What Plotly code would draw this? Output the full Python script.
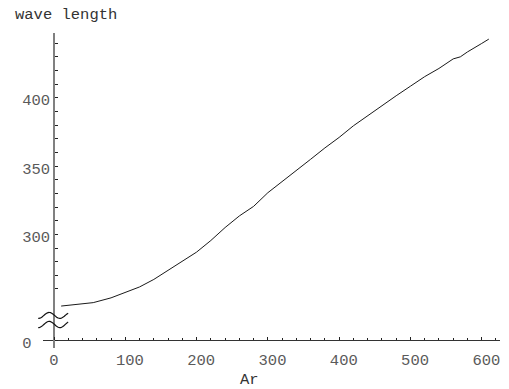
import numpy as np
import plotly.graph_objects as go

# ---- data ----
ar = [10, 30, 55, 80, 100, 120, 140, 160, 180, 200, 220, 240, 260, 280, 300,
      320, 340, 360, 380, 400, 420, 440, 460, 480, 500, 520, 540, 560, 570,
      580, 600, 610]
wavelength = [247.5, 248.5, 250, 253.5, 257.5, 261.5, 267, 273.5, 280.5, 287,
              295.5, 305, 313.5, 320.5, 330.5, 338.5, 347, 355, 363.3, 371,
              379.5, 387, 394.5, 401.5, 408.5, 415.5, 421.5, 428.5, 430,
              433.6, 439.8, 443]

x_tick_values = [0, 100, 200, 300, 400, 500, 600]
x_tick_labels = ["0", "\u00a0100", "\u00a0200", "\u00a0300", "\u00a0400", "\u00a0500", "\u00a0600"]

# broken y axis: the "0" label sits just below the break
ZERO_POS = 222.3
y_tick_values = [ZERO_POS, 300, 350, 400]
y_tick_labels = ["0\u00a0\u00a0", "300", "350", "400"]
y_minor_values = [260, 270, 280, 290, 310, 320, 330, 340, 360, 370, 380, 390,
                  410, 420, 430, 440]

W, H = 509, 389
FONT = "Liberation Mono"


def fx(px):
    return px / W


def fy(py):
    return 1 - py / H


fig = go.Figure()
fig.add_trace(go.Scatter(x=ar, y=wavelength, mode="lines",
                         line=dict(color="#1a1a1a", width=1),
                         hoverinfo="skip"))

# axis-break marks (two small waves across the y axis)
shapes = []
for yc, amp in [(318.7, 3.0), (327.85, 3.15)]:
    xs = np.linspace(38.3, 68.3, 40)
    ys = yc - amp * np.cos(2 * np.pi * (xs - 49.3) / 21.4)
    path = "M " + " L ".join(f"{fx(a):.5f},{fy(b):.5f}" for a, b in zip(xs, ys))
    shapes.append(dict(type="path", xref="paper", yref="paper", path=path,
                       line=dict(color="#111111", width=1.2)))

fig.update_layout(
    width=W, height=H,
    margin=dict(l=0, r=0, t=0, b=0),
    paper_bgcolor="white", plot_bgcolor="white",
    showlegend=False,
    font=dict(family=FONT, size=15.5, color="#5a5a5a"),
    shapes=shapes,
    xaxis=dict(
        domain=[fx(42.7), fx(500.5)], range=[-16, 625],
        anchor="free", position=fy(344),
        showgrid=False, zeroline=False,
        showline=True, linecolor="#333333", linewidth=1,
        tickmode="array", tickvals=x_tick_values, ticktext=x_tick_labels,
        ticks="inside", ticklen=3, tickwidth=1, tickcolor="#222222",
        ticklabelstandoff=5,
        minor=dict(dtick=20, tick0=0, ticks="inside", ticklen=2.5,
                   tickwidth=1, tickcolor="#222222", showgrid=False),
        tickfont=dict(family=FONT, size=15.5, color="#5a5a5a"),
    ),
    yaxis=dict(
        domain=[fy(352), fy(33.3)], range=[216.5, 447.5],
        anchor="free", position=fx(54.3),
        showgrid=False, zeroline=False,
        showline=True, linecolor="#808080", linewidth=2,
        tickmode="array", tickvals=y_tick_values, ticktext=y_tick_labels,
        ticks="inside", ticklen=3, tickwidth=1, tickcolor="#222222",
        ticklabelshift=2,
        minor=dict(tickmode="array", tickvals=y_minor_values, ticks="inside",
                   ticklen=2.5, tickwidth=1, tickcolor="#222222",
                   showgrid=False),
        tickfont=dict(family=FONT, size=15.5, color="#5a5a5a"),
    ),
    annotations=[
        dict(text="wave length", x=fx(12.7), y=fy(15), xref="paper",
             yref="paper", xanchor="left", yanchor="middle", showarrow=False,
             font=dict(family=FONT, size=15.5, color="#333333")),
        dict(text="Ar", x=fx(250), y=fy(384), xref="paper", yref="paper",
             xanchor="center", yanchor="middle", showarrow=False,
             font=dict(family=FONT, size=15.5, color="#333333")),
    ],
)

fig.write_html("out.html")
